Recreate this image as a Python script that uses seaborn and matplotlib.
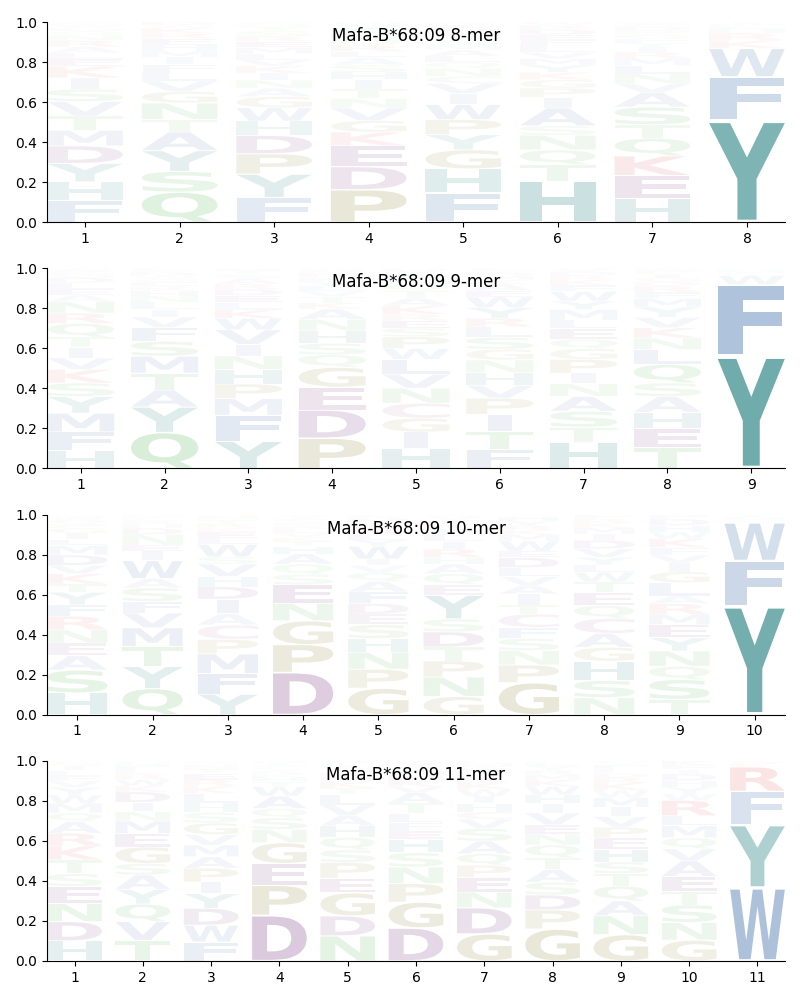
import matplotlib
matplotlib.use("Agg")
import matplotlib.pyplot as plt
import seaborn as sns
from matplotlib.textpath import TextPath
from matplotlib.patches import PathPatch
from matplotlib.font_manager import FontProperties
from matplotlib.transforms import Affine2D

# 자료: 각 위치별 아미노산 빈도 (아래에서 위로 쌓이는 순서)
titles = ["Mafa-B*68:09 8-mer", "Mafa-B*68:09 9-mer",
          "Mafa-B*68:09 10-mer", "Mafa-B*68:09 11-mer"]

mer8 = [
    {"F": .105, "H": .09, "Y": .09, "D": .085, "M": .075, "T": .07, "V": .07, "S": .06, "I": .055, "K": .055,
     "E": .035, "L": .03, "A": .03, "R": .03, "N": .025, "Q": .02, "G": .02, "W": .015, "P": .01},
    {"Q": .145, "S": .10, "Y": .10, "A": .09, "T": .06, "N": .08, "G": .055, "V": .05, "L": .04, "F": .04,
     "I": .035, "M": .03, "H": .03, "E": .03, "R": .025, "K": .025, "W": .015, "D": .015},
    {"F": .12, "Y": .115, "P": .10, "D": .09, "H": .07, "W": .065, "G": .055, "A": .04, "N": .04, "I": .035,
     "K": .035, "V": .03, "L": .03, "M": .03, "E": .03, "R": .025, "S": .025, "T": .02, "Q": .015, "C": .01},
    {"P": .155, "D": .11, "E": .10, "K": .065, "G": .055, "V": .06, "N": .045, "T": .045, "I": .045, "H": .035,
     "S": .035, "A": .035, "L": .03, "R": .03, "Q": .03, "M": .025, "F": .02, "Y": .02, "W": .015},
    {"F": .145, "H": .12, "G": .095, "Y": .075, "P": .075, "W": .075, "I": .055, "V": .05, "C": .035, "N": .04,
     "Q": .03, "L": .03, "A": .03, "M": .025, "S": .025, "T": .025, "E": .02, "D": .02, "K": .015, "R": .01},
    {"H": .195, "T": .08, "Q": .07, "N": .07, "S": .045, "A": .085, "I": .05, "P": .045, "G": .04, "K": .035,
     "Y": .035, "M": .03, "V": .03, "L": .03, "F": .03, "E": .025, "D": .025, "R": .02, "W": .015},
    {"H": .115, "E": .11, "K": .095, "Q": .085, "T": .065, "S": .085, "A": .07, "V": .045, "N": .045, "L": .04,
     "M": .035, "R": .03, "I": .025, "Y": .02, "F": .02, "G": .02, "P": .02, "D": .015, "C": .015, "W": .01},
    {"Y": .50, "F": .215, "W": .14, "K": .04, "R": .035, "H": .02, "L": .015, "M": .01, "I": .01},
]

mer9 = [
    {"H": .085, "F": .09, "M": .09, "Y": .08, "S": .065, "K": .065, "V": .055, "I": .05, "T": .05, "Q": .065,
     "R": .05, "N": .055, "A": .03, "E": .03, "L": .03, "D": .025, "G": .02, "P": .015, "W": .01},
    {"Q": .17, "Y": .12, "A": .08, "T": .08, "M": .08, "S": .07, "F": .065, "V": .05, "I": .035, "L": .035,
     "N": .03, "H": .025, "R": .02, "E": .02, "G": .015, "W": .015, "D": .015, "K": .01, "C": .01},
    {"Y": .13, "F": .125, "M": .08, "P": .07, "H": .07, "N": .065, "I": .055, "V": .07, "W": .055, "K": .04,
     "L": .035, "E": .035, "D": .03, "R": .025, "A": .025, "S": .02, "T": .02, "G": .01},
    {"P": .145, "D": .135, "E": .11, "G": .095, "Q": .06, "S": .055, "H": .06, "N": .055, "A": .05, "K": .03,
     "T": .03, "V": .025, "L": .025, "Y": .02, "F": .02, "R": .02, "M": .015, "W": .01},
    {"H": .095, "I": .075, "G": .065, "C": .07, "N": .07, "V": .065, "L": .07, "W": .05, "P": .055, "S": .04,
     "E": .035, "R": .03, "K": .04, "A": .035, "T": .035, "Q": .03, "M": .025, "F": .02, "Y": .02, "D": .01},
    {"F": .09, "T": .085, "I": .08, "P": .075, "V": .06, "H": .06, "N": .06, "G": .05, "S": .055, "L": .05,
     "R": .04, "Y": .05, "W": .05, "E": .03, "A": .03, "K": .02, "M": .02, "D": .015, "Q": .01, "C": .01},
    {"H": .125, "T": .07, "S": .075, "A": .07, "N": .06, "I": .05, "P": .065, "G": .05, "Q": .045, "E": .05,
     "L": .04, "M": .05, "Y": .04, "W": .045, "F": .03, "K": .025, "R": .02, "D": .02, "V": .015},
    {"T": .10, "E": .09, "H": .08, "A": .075, "S": .065, "Q": .09, "L": .07, "N": .055, "K": .05, "V": .05,
     "Y": .05, "M": .04, "F": .03, "R": .03, "D": .02, "G": .02, "I": .02, "P": .015, "W": .01},
    {"Y": .55, "F": .35, "W": .045, "L": .01, "M": .01, "H": .01, "I": .005},
]

mer10 = [
    {"H": .105, "S": .11, "A": .07, "E": .06, "N": .065, "R": .065, "F": .055, "Y": .06, "T": .04, "K": .05,
     "V": .04, "D": .05, "M": .045, "L": .03, "I": .03, "G": .025, "P": .02, "Q": .02, "W": .015, "C": .01},
    {"Q": .125, "Y": .105, "T": .095, "M": .09, "V": .07, "F": .055, "S": .065, "A": .045, "W": .085, "I": .045,
     "E": .03, "N": .05, "D": .03, "H": .02, "R": .015, "L": .01, "K": .01, "G": .01},
    {"Y": .10, "F": .10, "M": .095, "P": .07, "C": .07, "A": .055, "I": .07, "D": .06, "H": .05, "V": .06,
     "S": .035, "W": .06, "L": .03, "E": .03, "K": .02, "R": .02, "T": .02, "N": .015, "G": .01},
    {"D": .205, "P": .135, "G": .115, "N": .085, "E": .09, "S": .05, "Q": .05, "A": .05, "H": .035, "T": .025,
     "K": .02, "V": .02, "L": .02, "R": .015, "M": .015, "Y": .01, "F": .01, "I": .01, "W": .01},
    {"G": .125, "P": .09, "N": .08, "H": .065, "S": .065, "E": .05, "D": .05, "F": .055, "A": .05, "Q": .04,
     "V": .035, "I": .03, "W": .06, "Y": .03, "L": .03, "K": .03, "T": .02, "M": .02, "R": .01, "C": .01},
    {"G": .085, "N": .09, "P": .075, "T": .065, "D": .07, "S": .06, "Y": .11, "E": .05, "Q": .05, "A": .045,
     "H": .03, "R": .04, "I": .035, "L": .03, "F": .03, "K": .02, "M": .02, "V": .015, "W": .01},
    {"G": .145, "P": .08, "N": .065, "S": .055, "F": .05, "C": .06, "T": .04, "I": .05, "A": .04, "V": .04,
     "L": .04, "D": .045, "E": .03, "W": .045, "M": .03, "K": .02, "R": .02, "Y": .02, "H": .02, "Q": .01},
    {"N": .08, "S": .08, "H": .09, "G": .065, "A": .065, "C": .07, "Q": .06, "E": .06, "T": .05, "W": .045,
     "L": .035, "Y": .035, "V": .04, "D": .04, "I": .03, "M": .03, "K": .02, "R": .02, "F": .02},
    {"T": .07, "S": .09, "Q": .06, "N": .07, "Y": .06, "E": .06, "M": .045, "R": .05, "A": .035, "L": .06,
     "G": .05, "I": .04, "V": .035, "F": .035, "K": .04, "W": .03, "H": .03, "D": .03, "P": .02},
    {"Y": .53, "F": .22, "W": .185, "L": .01, "M": .01, "H": .01, "I": .01},
]

mer11 = [
    {"H": .095, "D": .09, "N": .085, "E": .08, "S": .06, "T": .065, "K": .065, "R": .06, "A": .055, "Q": .04,
     "M": .045, "W": .04, "Y": .035, "V": .03, "F": .025, "L": .025, "I": .02, "G": .015, "P": .01},
    {"T": .10, "V": .09, "Q": .085, "Y": .07, "A": .07, "S": .055, "G": .08, "E": .065, "M": .06, "N": .045,
     "I": .045, "D": .05, "K": .03, "W": .03, "R": .025, "L": .02, "F": .02, "H": .015, "P": .01},
    {"F": .09, "W": .08, "D": .08, "Y": .07, "I": .055, "P": .065, "A": .055, "M": .055, "V": .05, "G": .055,
     "S": .05, "H": .045, "L": .045, "K": .035, "R": .03, "E": .03, "T": .02, "N": .02, "Q": .01, "C": .01},
    {"D": .22, "P": .145, "E": .105, "G": .10, "N": .065, "S": .055, "Q": .045, "A": .06, "W": .045, "T": .025,
     "H": .02, "K": .015, "R": .015, "Y": .01, "L": .01, "V": .01, "I": .01, "M": .01},
    {"N": .12, "D": .095, "G": .11, "E": .07, "P": .075, "S": .06, "Q": .06, "H": .055, "A": .05, "V": .05,
     "L": .05, "T": .03, "K": .03, "M": .025, "R": .02, "Y": .02, "I": .015, "F": .01, "W": .01},
    {"D": .16, "G": .125, "P": .09, "N": .08, "S": .07, "H": .065, "E": .04, "F": .04, "L": .045, "T": .05,
     "A": .05, "V": .03, "K": .03, "M": .025, "R": .02, "Q": .02, "Y": .02, "W": .01},
    {"G": .13, "D": .125, "N": .075, "E": .07, "P": .06, "Q": .055, "A": .06, "S": .06, "V": .045, "C": .035,
     "H": .04, "I": .035, "W": .035, "K": .03, "R": .02, "L": .02, "Y": .02, "T": .02, "M": .015, "F": .01},
    {"G": .15, "P": .09, "D": .07, "S": .06, "A": .06, "T": .055, "Q": .06, "N": .05, "E": .045, "V": .055,
     "I": .045, "H": .04, "W": .04, "K": .03, "M": .025, "R": .02, "Y": .02, "L": .015, "F": .01},
    {"G": .125, "N": .09, "A": .07, "Q": .07, "T": .06, "S": .055, "H": .06, "E": .055, "P": .05, "V": .05,
     "I": .045, "M": .045, "W": .035, "K": .035, "R": .025, "D": .02, "L": .02, "F": .02, "Y": .01, "C": .01},
    {"G": .095, "N": .08, "S": .08, "T": .06, "E": .07, "A": .07, "V": .055, "Q": .05, "M": .055, "L": .045,
     "R": .07, "W": .03, "Y": .03, "H": .03, "D": .03, "I": .02, "F": .02, "K": .02},
    {"W": .36, "Y": .31, "F": .165, "R": .12, "K": .02, "L": .01},
]

# 아미노산 색상
aa_colors = {}
for aa in "KR":
    aa_colors[aa] = (0.84, 0.15, 0.16)
for aa in "DE":
    aa_colors[aa] = (0.38, 0.08, 0.42)
aa_colors["C"] = (0.62, 0.25, 0.50)
for aa in "NQST":
    aa_colors[aa] = (0.17, 0.63, 0.17)
for aa in "GP":
    aa_colors[aa] = (0.45, 0.42, 0.05)
for aa in "HY":
    aa_colors[aa] = (0.0, 0.42, 0.42)
for aa in "FW":
    aa_colors[aa] = (0.12, 0.34, 0.62)
for aa in "AVILM":
    aa_colors[aa] = (0.25, 0.36, 0.68)

sns.set_style("ticks", {"axes.edgecolor": "black", "text.color": "black",
                        "xtick.color": "black", "ytick.color": "black",
                        "axes.labelcolor": "black"})
plt.rcParams['font.family'] = ['DejaVu Sans']

fp = FontProperties(family="DejaVu Sans", weight="bold")
ref_w = TextPath((0, 0), "E", size=1, prop=fp).get_extents().width


def draw_letter(ax, ch, x, y0, h, width=0.8, vpad=0.05):
    path = TextPath((0, 0), ch, size=1, prop=fp)
    ext = path.get_extents()
    pad = h * vpad / 2
    sx = min(width / ext.width, width / ref_w)
    sy = (h - 2 * pad) / ext.height
    shift = (width - sx * ext.width) / 2
    tr = (Affine2D().translate(-ext.x0, -ext.y0).scale(sx, sy)
          .translate(x - width / 2 + shift, y0 + pad))
    alpha = min(1.0, h)
    ax.add_patch(PathPatch(tr.transform_path(path), facecolor=aa_colors[ch],
                           edgecolor='none', alpha=alpha))


fig, axes = plt.subplots(4, 1, figsize=(8, 10), dpi=100)
fig.subplots_adjust(left=0.059, right=0.981, top=0.978, bottom=0.039, hspace=0.23)

for ax, title, logo in zip(axes, titles, [mer8, mer9, mer10, mer11]):
    n = len(logo)
    for i, col in enumerate(logo):
        total = sum(col.values())
        y = 0.0
        for aa, v in col.items():
            h = v / total
            draw_letter(ax, aa, i + 1, y, h)
            y += h
    ax.set_xlim(0.6, n + 0.4)
    ax.set_ylim(0, 1)
    ax.set_xticks(range(1, n + 1))
    ax.set_yticks([0, 0.2, 0.4, 0.6, 0.8, 1.0])
    ax.text(0.5, 0.93, title, transform=ax.transAxes, ha='center', va='center',
            fontsize=12, color='black')
    sns.despine(ax=ax)

plt.savefig("out.png", dpi=100)
